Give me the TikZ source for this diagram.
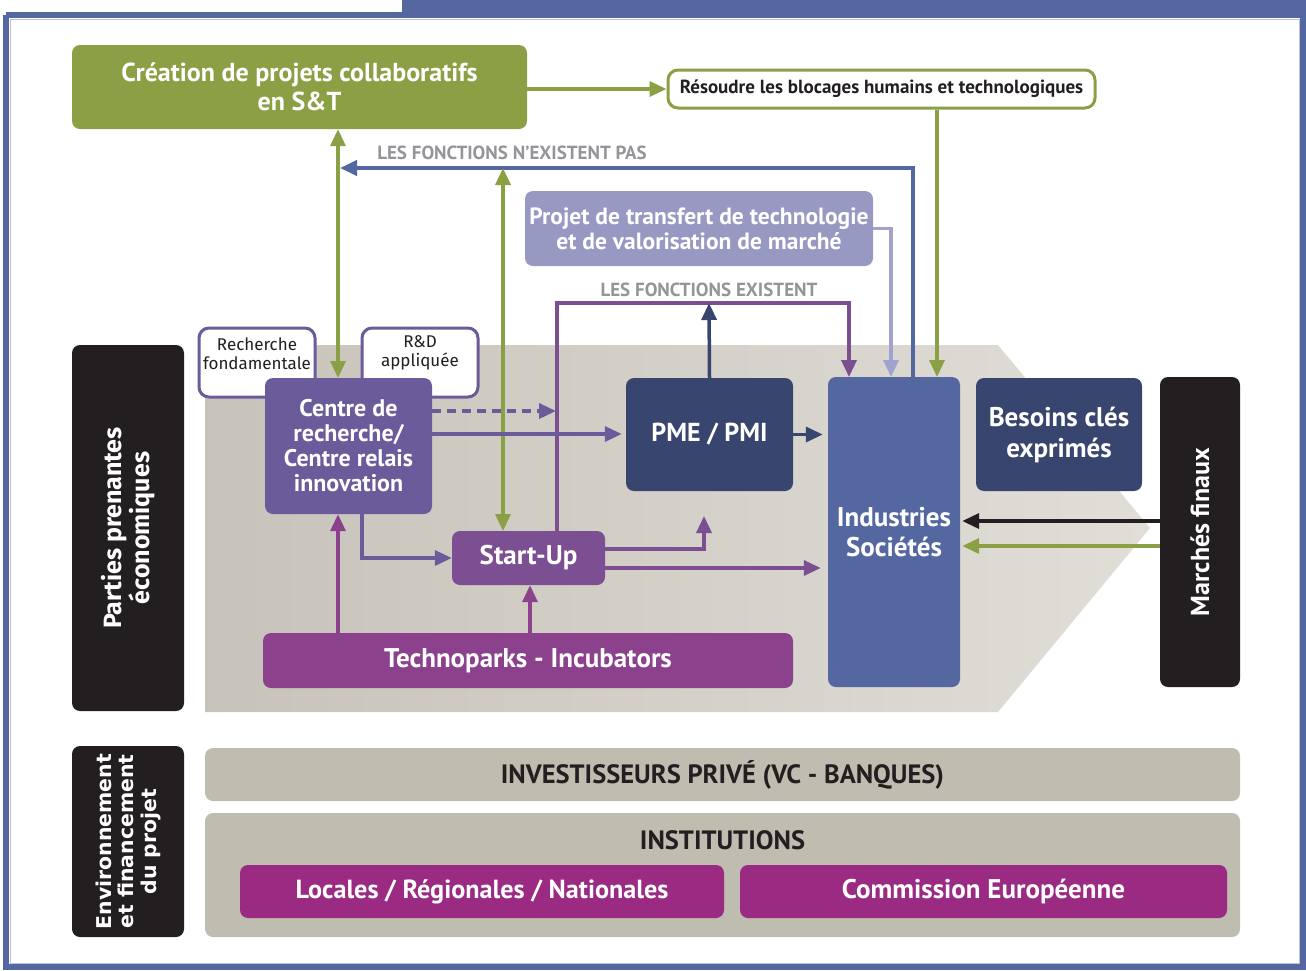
\documentclass[tikz,border=0pt]{standalone}
\usepackage{fontspec}
\setmainfont{PT Sans}
\newfontfamily\humfont{Fira Sans}
\newfontfamily\widefont{DejaVu Sans}
\usetikzlibrary{arrows.meta,calc}

\definecolor{cgreen}{HTML}{8BA045}
\definecolor{clav}{HTML}{9799C3}
\definecolor{clavline}{HTML}{A0A3CE}
\definecolor{cpurple}{HTML}{6B5B9A}
\definecolor{cviolet}{HTML}{7B4F91}
\definecolor{cnavy}{HTML}{38466F}
\definecolor{cblue}{HTML}{5467A1}
\definecolor{cmag}{HTML}{8B418C}
\definecolor{cmagb}{HTML}{9B2A83}
\definecolor{cblack}{HTML}{231F20}
\definecolor{cgraytxt}{HTML}{939598}
\definecolor{cbeige}{HTML}{BFBCB0}
\definecolor{cbgl}{HTML}{C7C3BA}
\definecolor{cbgr}{HTML}{E1DED8}

\tikzset{
  box/.style={rounded corners=8pt, inner sep=0pt, align=center, text=white,
    font=\bfseries\fontsize{27}{30}\selectfont},
  outlinebox/.style={rounded corners=10pt, inner sep=0pt, align=center, fill=white,
    line width=3pt},
  smalltext/.style={inner sep=0pt, align=center, text=cblack,
    font=\humfont\fontsize{17}{19}\selectfont},
  lbl/.style={text=cgraytxt, font=\bfseries\fontsize{19}{22}\selectfont, inner sep=0pt},
  tip/.style={-{Triangle[length=17pt,width=15pt]}},
  twotip/.style={{Triangle[length=17pt,width=15pt]}-{Triangle[length=17pt,width=15pt]}},
  conn/.style={line width=3.5pt},
}

\begin{document}
\begin{tikzpicture}[x=1pt,y=-1pt]
\useasboundingbox (0,0) rectangle (1306,970);

% frame and top band
\fill[cblue] (402,0) rectangle (1306,15);
\draw[cblue, line width=6pt] (6,15) -- (6,967) -- (1303,967) -- (1303,15) -- (6,15);
\draw[cblue!40, line width=1pt] (10,19) rectangle (1299,963);

% stakeholder zone background
\shade[left color=cbgl, right color=cbgr]
  (205,345) -- (998,345) -- (1150,528) -- (998,712) -- (205,712) -- cycle;

% left column labels
\node[box, fill=cblack, minimum width=112pt, minimum height=366pt] (pp) at (128,528) {};
\node[rotate=90, text=white, align=center, font=\humfont\bfseries\fontsize{25}{28}\selectfont]
  at (pp.center) {Parties prenantes\\économiques};
\node[box, fill=cblack, minimum width=112pt, minimum height=191pt] (env) at (128,841.5) {};
\node[rotate=90, text=white, align=center, font=\widefont\bfseries\fontsize{20.4}{22.5}\selectfont]
  at (env.center) {Environnement\\et financement\\du projet};

% top row
\node[box, fill=cgreen, minimum width=455pt, minimum height=84pt,
  font=\bfseries\fontsize{26}{29}\selectfont] (crea) at (299.5,87)
  {Création de projets collaboratifs\\en S\&T};
\node[outlinebox, draw=cgreen, minimum width=427pt, minimum height=38pt,
  font=\bfseries\fontsize{19}{21}\selectfont, text=cblack] (res) at (881.5,89)
  {Résoudre les blocages humains et technologiques};
\node[lbl] (nex) at (512,153) {LES FONCTIONS N’EXISTENT PAS};
\node[box, fill=clav, minimum width=348pt, minimum height=75pt,
  font=\bfseries\fontsize{23.5}{25}\selectfont] (proj) at (699,228.5)
  {Projet de transfert de technologie\\et de valorisation de marché};
\node[lbl] (exi) at (709,290) {LES FONCTIONS EXISTENT};

% free ends of connectors
\coordinate (nftip) at (340,168);
\coordinate (sttop) at (503,168);
\coordinate (ex) at (709,303);
\coordinate (dtip) at (556,411);
\coordinate (stip) at (704,516);

% connectors behind the boxes
\draw[conn, cgreen, tip] (crea.east |- res.west) -- (res.west);
\draw[conn, cgreen, tip] (res.south -| 937,0) -- (937,377);
\draw[conn, line width=4pt, cblue, tip] (913,377) |- (nftip);
\draw[conn, cgreen, twotip] (crea.south -| 338,0) -- (338,378);
\draw[conn, cgreen, twotip] (sttop) -- (503,531);
\draw[conn, clavline, tip] (proj.east) -| (891,377);
\draw[conn, cviolet, tip] (557,531) |- (ex) -| (849,377);

% research boxes
\node[outlinebox, draw=cpurple, minimum width=116pt, minimum height=69pt] (rf) at (257,362.5) {};
\node[smalltext] at ([yshift=9pt]rf.center) {Recherche\\fondamentale};
\node[outlinebox, draw=cpurple, minimum width=116pt, minimum height=69pt] (rd) at (420,362.5) {};
\node[smalltext] at ([yshift=10pt]rd.center) {R\&D\\appliquée};
\node[box, fill=cpurple, minimum width=167pt, minimum height=136pt,
  font=\bfseries\fontsize{24}{25}\selectfont] (cr) at (348.5,446)
  {Centre de\\recherche/\\Centre relais\\innovation};

% main actors
\node[box, fill=cnavy, minimum width=167pt, minimum height=113pt,
  font=\bfseries\fontsize{26}{30}\selectfont] (pme) at (709.5,434.5) {PME / PMI};
\node[box, fill=cblue, minimum width=132pt, minimum height=310pt,
  font=\bfseries\fontsize{27}{30}\selectfont] (ind) at (894,532) {Industries\\Sociétés};
\node[box, fill=cnavy, minimum width=166pt, minimum height=113pt,
  font=\bfseries\fontsize{27}{31}\selectfont] (bes) at (1059,434.5) {Besoins clés\\exprimés};
\node[box, fill=cblack, minimum width=80pt, minimum height=310pt] (mar) at (1200,532) {};
\node[rotate=90, text=white, font=\bfseries\fontsize{26}{28}\selectfont] at (mar.center) {Marchés finaux};
\node[box, fill=cviolet, minimum width=153pt, minimum height=54pt] (su) at (528.5,558) {Start-Up};
\node[box, fill=cmag, minimum width=530pt, minimum height=55pt] (tp) at (528,660.5) {Technoparks - Incubators};

% flows between actors
\draw[conn, cnavy, tip] (pme.north) -- (ex);
\draw[conn, cnavy, tip, shorten >=5pt] (pme.east) -- (pme.east -| ind.west);
\draw[conn, cpurple, tip, dashed, dash pattern=on 9pt off 6pt] (cr.east |- 0,411) -- (dtip);
\draw[conn, cpurple, tip, shorten >=4pt] (cr.east |- 0,434) -- (pme.west |- 0,434);
\draw[conn, cpurple, tip] (cr.south -| 362,0) |- (su.west);
\draw[conn, cviolet, tip] (su.east |- 0,549) -| (stip);
\draw[conn, cviolet, tip, shorten >=7pt] (su.east |- 0,568) -- (ind.west |- 0,568);
\draw[conn, cmag, tip] (tp.north -| 338,0) -- (cr.south -| 338,0);
\draw[conn, cmag, tip] (tp.north -| 530,0) -- (su.south -| 530,0);
\draw[conn, cblack, tip, shorten >=2pt] (mar.west |- 0,521) -- (ind.east |- 0,521);
\draw[conn, cgreen, tip, shorten >=2pt] (mar.west |- 0,546) -- (ind.east |- 0,546);

% financing
\node[box, fill=cbeige, minimum width=1035pt, minimum height=53pt, text=cblack,
  font=\bfseries\fontsize{26.5}{28}\selectfont] (inv) at (722.5,774.5)
  {INVESTISSEURS PRIVÉ (VC - BANQUES)};
\node[box, fill=cbeige, minimum width=1035pt, minimum height=124pt] (inst) at (722.5,875) {};
\node[text=cblack, font=\bfseries\fontsize{26.5}{28}\selectfont, inner sep=0pt] (instl) at (722.5,840) {INSTITUTIONS};
\node[box, fill=cmagb, minimum width=484pt, minimum height=53pt,
  font=\bfseries\fontsize{26.2}{28}\selectfont] (loc) at (482,891.5)
  {Locales / Régionales / Nationales};
\node[box, fill=cmagb, minimum width=487pt, minimum height=53pt] (com) at (983.5,891.5)
  {Commission Européenne};
\end{tikzpicture}
\end{document}
